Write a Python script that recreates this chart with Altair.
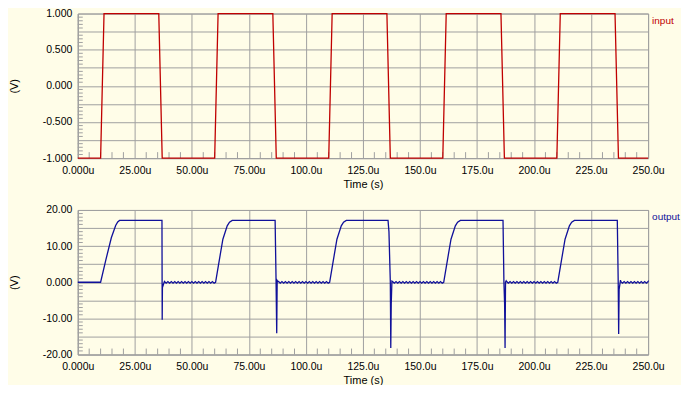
import altair as alt
import pandas as pd

# ---------------- data ----------------
# input square wave (time in microseconds, volts)
input_t = [0, 10, 11.5, 35.5, 37, 60, 61.5, 85.5, 87, 110, 111.5, 135.5, 137,
           160, 161.5, 185.5, 187, 210, 211.5, 235.5, 237, 250]
input_v = [-1, -1, 1, 1, -1, -1, 1, 1, -1, -1, 1, 1, -1,
           -1, 1, 1, -1, -1, 1, 1, -1, -1]

# output: first rise (from rest), later rises, plateau level
first_rise_t = [0, 10.0, 12.3, 14.7, 16.6, 17.5, 18.3]
first_rise_v = [0, 0.0, 6.2, 12.3, 15.7, 16.7, 17.1]
rise_dt = [10.4, 12.0, 13.6, 15.5, 16.5, 17.7]
rise_v = [0.0, 6.0, 11.9, 15.6, 16.6, 17.1]

# falling edge with undershoot spike, per cycle (absolute times)
fall_t = [
    [36.9, 37.0, 37.1, 37.6],
    [86.5, 86.9, 87.2, 87.4, 87.7],
    [136.0, 136.4, 137.0, 137.2, 137.4, 137.7],
    [186.4, 186.8, 187.1, 187.3, 187.5, 187.8],
    [236.5, 236.9, 237.1, 237.3, 237.9],
]
fall_v = [
    [17.1, -10.4, -1.5, -0.5],
    [17.1, 1.0, -14.1, 0.5, 0.2],
    [17.1, 14.0, 0.0, -18.2, -6.0, 0.3],
    [17.1, 0.0, -6.0, -18.2, 0.0, 0.4],
    [17.1, 0.0, -14.3, -2.0, 0.6],
]

# small ringing while output sits near 0 V (offset within each 50u period)
ripple_dt = [38.0, 38.75, 39.5, 40.25, 41.0, 41.75, 42.5, 43.25, 44.0, 44.75,
             45.5, 46.25, 47.0, 47.75, 48.5, 49.25, 50.0, 50.75, 51.5, 52.25,
             53.0, 53.75, 54.5, 55.25, 56.0, 56.75, 57.5, 58.25, 59.0, 59.75]
ripple_v = [0.2, -0.25, 0.2, -0.25, 0.2, -0.25, 0.2, -0.25, 0.2, -0.25,
            0.2, -0.25, 0.2, -0.25, 0.2, -0.25, 0.2, -0.25, 0.2, -0.25,
            0.2, -0.25, 0.2, -0.25, 0.2, -0.25, 0.2, -0.25, 0.2, -0.25]

x_ticks = [0, 25, 50, 75, 100, 125, 150, 175, 200, 225, 250]
top_y_ticks = [-1, -0.75, -0.5, -0.25, 0, 0.25, 0.5, 0.75, 1]
bot_y_ticks = [-20, -15, -10, -5, 0, 5, 10, 15, 20]

# assemble output waveform from the pieces above
out_t, out_v = list(first_rise_t), list(first_rise_v)
for k in range(5):
    s = 50 * k
    if k > 0:
        out_t += [s + d for d in rise_dt]
        out_v += rise_v
    out_t += fall_t[k]
    out_v += fall_v[k]
    for d, v in zip(ripple_dt, ripple_v):
        if s + d <= 250:
            out_t.append(s + d)
            out_v.append(v)
out_t.append(250)
out_v.append(0.0)

df_in = pd.DataFrame({"t": input_t, "v": input_v})
df_out = pd.DataFrame({"t": out_t, "v": out_v})

minor_x = pd.DataFrame({"t": [i * 5 for i in range(51) if i % 5 != 0]})
minor_top = pd.DataFrame({"v": [round(-1 + i * 0.05, 2) for i in range(41) if i % 5 != 0]})
minor_bot = pd.DataFrame({"v": [float(-20 + i) for i in range(41) if i % 5 != 0]})

# ---------------- styling ----------------
W, H = 572, 145
GRID = "#A0A0A0"
FONT = "Liberation Sans, Arial, sans-serif"
RED = "#C00000"
BLUE = "#10109A"

xscale = alt.Scale(domain=[0, 250], nice=False, zero=False)
xaxis = alt.Axis(values=x_ticks, grid=True, ticks=False, title="Time (s)",
                 labelExpr="(datum.value == 0 ? '0.000' : format(datum.value, '.4r')) + 'u'",
                 labelPadding=7, titlePadding=3, labelFlush=False)


def panel(df, color, yticks, ydomain, label_expr, name, minor_y):
    yscale = alt.Scale(domain=ydomain, nice=False, zero=False)
    yaxis = alt.Axis(values=yticks, grid=True, ticks=False, title="(V)",
                     labelExpr=label_expr, labelPadding=6, labelFlush=False,
                     titleX=-63, titleY=H / 2, titleAngle=270,
                     titleAlign="center", titleBaseline="middle")
    line = alt.Chart(df).mark_line(color=color, strokeWidth=1.3, interpolate="linear").encode(
        x=alt.X("t:Q", scale=xscale, axis=xaxis),
        y=alt.Y("v:Q", scale=yscale, axis=yaxis),
    )
    xt = alt.Chart(minor_x).mark_rule(color=GRID, strokeWidth=1).encode(
        x=alt.X("t:Q", scale=xscale, axis=xaxis),
        y=alt.value(H), y2=alt.value(H - 6),
    )
    yt = alt.Chart(minor_y).mark_rule(color=GRID, strokeWidth=1).encode(
        y=alt.Y("v:Q", scale=yscale, axis=yaxis),
        x=alt.value(0), x2=alt.value(5),
    )
    lab = alt.Chart(pd.DataFrame({"label": [name]})).mark_text(
        align="left", baseline="middle", color=color, font=FONT, fontSize=10
    ).encode(x=alt.value(W + 4), y=alt.value(7), text="label:N")
    return alt.layer(xt, yt, line, lab).properties(width=W, height=H)


top = panel(df_in, RED, top_y_ticks, [-1, 1],
            "datum.value % 0.5 == 0 ? replace(format(datum.value, '.3f'), '\u2212', '-') : ''",
            "input", minor_top)
bottom = panel(df_out, BLUE, bot_y_ticks, [-20, 20],
               "datum.value % 10 != 0 ? '' : (datum.value == 0 ? '0.000' : replace(format(datum.value, '.4r'), '\u2212', '-'))",
               "output", minor_bot)

chart = alt.vconcat(top, bottom, spacing=14).properties(
    background="#FFFDE8",
    padding={"left": 0, "top": -1, "right": 0, "bottom": -2},
).configure_view(stroke=GRID, strokeWidth=1).configure_axis(
    domainColor=GRID, gridColor=GRID, gridOpacity=1, domainWidth=1, gridWidth=1,
    labelFont=FONT, titleFont=FONT, labelFontSize=10.5, titleFontSize=11,
    labelColor="#000000", titleColor="#000000", titleFontWeight="normal",
)

chart.save("out.html", embed_options={"renderer": "svg", "actions": False})
